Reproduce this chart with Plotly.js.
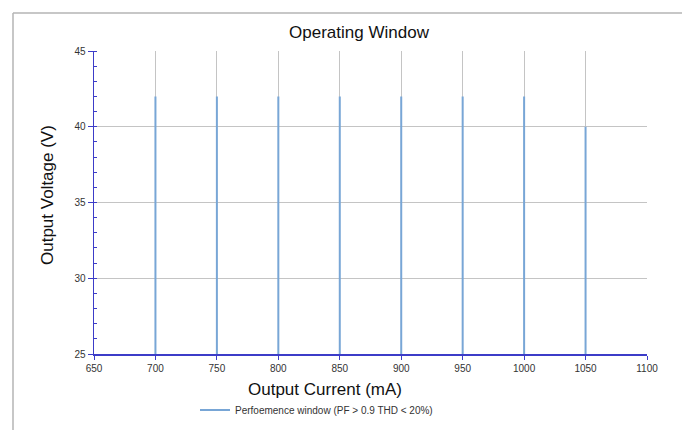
<!DOCTYPE html>
<html>
<head>
<meta charset="utf-8">
<script src="https://cdn.plot.ly/plotly-3.0.1.min.js"></script>
<style>html,body{margin:0;padding:0;background:#fff;}#chart{width:682px;height:430px;}</style>
</head>
<body>
<div id="chart"></div>
<script>
// Data
const currents = [700, 750, 800, 850, 900, 950, 1000, 1050];   // mA
const vLow     = [25, 25, 25, 25, 25, 25, 25, 25];              // V
const vHigh    = [42, 42, 42, 42, 42, 42, 42, 40];              // V
const seriesName = 'Perfoemence window (PF > 0.9 THD < 20%)';
const xTicks = [650, 700, 750, 800, 850, 900, 950, 1000, 1050, 1100];
const yTicks = [25, 30, 35, 40, 45];

const xs = [], ys = [];
currents.forEach((c, i) => { xs.push(c, c, null); ys.push(vLow[i], vHigh[i], null); });

const W = 682, H = 430, L = 94, R = 35, T = 51, B = 76;
const pw = W - L - R, ph = H - T - B;
const px = v => (v - L) / pw;
const py = v => (H - B - v) / ph;

const trace = {
  x: xs, y: ys, mode: 'lines', name: seriesName,
  line: {color: '#78a6d6', width: 2}, connectgaps: false, showlegend: true
};

const axisBlue = '#3c3cc8';
const layout = {
  width: W, height: H,
  margin: {l: L, r: R, t: T, b: B, pad: 0, autoexpand: false},
  paper_bgcolor: '#fff', plot_bgcolor: '#fff',
  font: {family: 'Liberation Sans, Arial, sans-serif', color: '#333', size: 10},
  title: {text: 'Operating Window', font: {size: 17, color: '#111'}, x: px(359), xanchor: 'center', xref: 'paper', y: 1 - 32 / H, yanchor: 'middle'},
  xaxis: {
    range: [650, 1100], tickvals: xTicks, ticktext: xTicks.map(String),
    showgrid: true, gridcolor: '#c4c4c4', gridwidth: 1,
    showline: true, linecolor: axisBlue, linewidth: 1.5,
    ticks: 'outside', ticklen: 4, tickcolor: axisBlue, tickwidth: 1,
    zeroline: false, tickfont: {size: 10, color: '#333'}, fixedrange: true, automargin: false
  },
  yaxis: {
    range: [25, 45], tickvals: yTicks, ticktext: yTicks.map(String),
    showgrid: true, gridcolor: '#c4c4c4', gridwidth: 1,
    showline: true, linecolor: axisBlue, linewidth: 1.5,
    ticks: 'outside', ticklen: 5, tickcolor: axisBlue, tickwidth: 1,
    minor: {dtick: 1, ticks: 'inside', ticklen: 3, tickcolor: axisBlue, showgrid: false},
    zeroline: false, tickfont: {size: 10, color: '#333'}, fixedrange: true, automargin: false
  },
  showlegend: true,
  legend: {orientation: 'h', x: px(195), xanchor: 'left', y: py(410), yanchor: 'middle',
           font: {size: 10, color: '#333'}, bgcolor: 'rgba(0,0,0,0)'},
  annotations: [
    {text: 'Output Current (mA)', xref: 'paper', yref: 'paper', x: px(325), y: py(389),
     xanchor: 'center', yanchor: 'middle', showarrow: false, font: {size: 17, color: '#111'}},
    {text: 'Output Voltage (V)', xref: 'paper', yref: 'paper', x: px(47), y: py(195),
     xanchor: 'center', yanchor: 'middle', textangle: -90, showarrow: false, font: {size: 17, color: '#111'}}
  ],
  shapes: [
    {type: 'line', xref: 'paper', yref: 'paper', x0: px(13), x1: px(700), y0: py(13), y1: py(13), line: {color: '#b4b4b4', width: 1.5}},
    {type: 'line', xref: 'paper', yref: 'paper', x0: px(13), x1: px(13), y0: py(13), y1: py(440), line: {color: '#b4b4b4', width: 1.5}}
  ]
};

Plotly.newPlot('chart', [trace], layout, {displayModeBar: false, staticPlot: true});
</script>
</body>
</html>
